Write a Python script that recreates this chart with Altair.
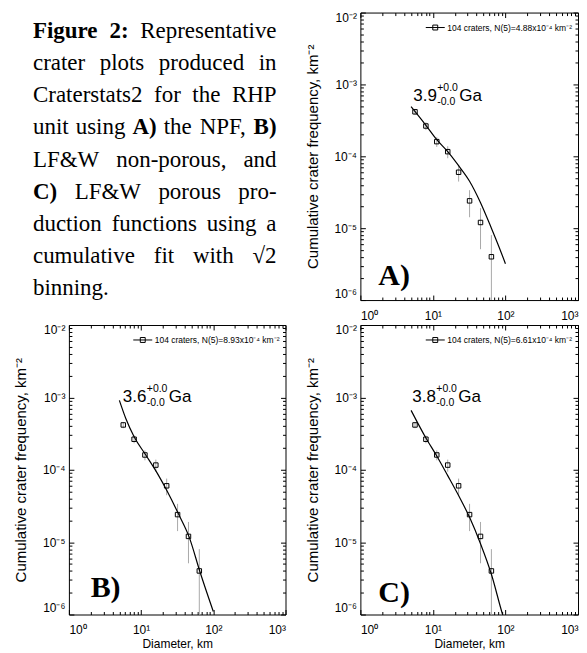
import altair as alt
import pandas as pd

SANS = "Liberation Sans"
SERIF = "Liberation Serif"

# ---------------- data ----------------
crater_diam_km = [5.66, 8.0, 11.3, 16.0, 22.6, 32.0, 45.3, 64.0]
crater_cum_freq = [4.16e-4, 2.64e-4, 1.60e-4, 1.16e-4, 6.0e-5, 2.4e-5, 1.2e-5, 4.0e-6]
crater_err_low = [3.75e-4, 2.32e-4, 1.35e-4, 0.94e-4, 4.45e-5, 1.42e-5, 5.1e-6, 1e-7]
crater_err_high = [4.57e-4, 2.97e-4, 1.85e-4, 1.38e-4, 7.55e-5, 3.38e-5, 1.9e-5, 8.0e-6]

fit_npf_D = [5, 8, 11.3, 16, 22.6, 32, 45, 64, 80, 100]
fit_npf_N = [4.9e-4, 2.7e-4, 1.7e-4, 1.16e-4, 7.4e-5, 4.5e-5, 2.3e-5, 1.0e-5, 5.75e-6, 3.2e-6]
fit_nonporous_D = [5, 6.14, 8, 11.6, 16.8, 23.1, 33.5, 46.1, 65.3, 100]
fit_nonporous_N = [9.1e-4, 5.1e-4, 2.85e-4, 1.6e-4, 8.9e-5, 5.0e-5, 2.37e-5, 1.19e-5, 3.9e-6, 1.1e-6]
fit_porous_D = [5, 8, 11.3, 16, 22.6, 32, 45.3, 64, 90, 100]
fit_porous_N = [6.61e-4, 2.75e-4, 1.55e-4, 8.3e-5, 4.4e-5, 2.2e-5, 9.5e-6, 3.6e-6, 1.05e-6, 7.5e-7]

legend_labels = [
    "104 craters, N(5)=4.88x10\u207b\u2074 km\u207b\u00b2",
    "104 craters, N(5)=8.93x10\u207b\u2074 km\u207b\u00b2",
    "104 craters, N(5)=6.61x10\u207b\u2074 km\u207b\u00b2",
]
panel_age = ["3.9", "3.6", "3.8"]
age_err_plus = ["+0.0", "+0.0", "+0.0"]
age_err_minus = ["-0.0", "-0.0", "-0.0"]
age_anchor_D = [5.36, 5.58, 5.2]
age_anchor_N = [7.0e-4, 1.02e-3, 1.02e-3]
panel_letter = ["A)", "B)", "C)"]
letter_D = [1.77, 2.0, 1.77]
letter_N = [1.62e-6, 1.77e-6, 1.51e-6]

x_tick_values = [1, 10, 100, 1000]
x_tick_labels = ["10\u2070", "10\u00b9", "10\u00b2", "10\u00b3"]
y_tick_values = [1e-6, 1e-5, 1e-4, 1e-3, 1e-2]
y_tick_labels = ["10\u207b\u2076", "10\u207b\u2075", "10\u207b\u2074", "10\u207b\u00b3", "10\u207b\u00b2"]
x_minor_values = [m * d for d in [1, 10, 100] for m in range(2, 10)]
y_minor_values = [m * d for d in [1e-6, 1e-5, 1e-4, 1e-3] for m in range(2, 10)]

x_title = "Diameter, km"
y_title = "Cumulative crater frequency, km\u207b\u00b2"

caption_lines = [
    "**Figure 2:** Representative",
    "crater plots produced in",
    "Craterstats2 for the RHP",
    "unit using **A)** the NPF, **B)**",
    "LF&W non-porous, and",
    "**C)** LF&W porous pro-",
    "duction functions using a",
    "cumulative fit with \u221a2",
    "binning.",
]

# ---------------- helpers ----------------
def label_expr(vals, labs):
    parts = [f"abs(datum.value / {v!r} - 1) < 1e-6 ? '{l}'" for v, l in zip(vals, labs)]
    return " : ".join(parts) + " : ''"

XS = alt.Scale(type="log", domain=[1, 1000], nice=False)
YS = alt.Scale(type="log", domain=[1e-6, 1e-2], nice=False)


def x_label_axis(title):
    kw = dict(orient="bottom", values=x_tick_values, labelExpr=label_expr(x_tick_values, x_tick_labels),
              ticks=False, domain=False, grid=False, labelPadding=10, labelFont=SANS, labelFontSize=12,
              labelColor="black", minExtent=21, maxExtent=21, labelOverlap=False)
    if title:
        kw.update(title=title, titleFont=SANS, titleFontSize=12, titleFontWeight="normal",
                  titlePadding=3, titleColor="black")
    else:
        kw.update(title=None)
    return alt.Axis(**kw)


def y_label_axis():
    return alt.Axis(orient="left", values=y_tick_values, labelExpr=label_expr(y_tick_values, y_tick_labels),
                    ticks=False, domain=False, grid=False, labelPadding=4, labelFlush=True,
                    labelFont=SANS, labelFontSize=12, labelColor="black", labelOverlap=False,
                    minExtent=25, maxExtent=25, title=y_title, titleFont=SANS, titleFontSize=15,
                    titleFontWeight="normal", titlePadding=15, titleColor="black")


def tick_axis(orient, values, size):
    return alt.Axis(orient=orient, values=values, labels=False, ticks=True, tickSize=size, offset=-size,
                    domain=False, grid=False, title=None, tickColor="black", tickWidth=1,
                    minExtent=0, maxExtent=0)


def panel(i, fitD, fitN, width, height, xtitle):
    pts = pd.DataFrame({"D": crater_diam_km, "N": crater_cum_freq, "lo": crater_err_low,
                        "hi": crater_err_high, "series": legend_labels[i]})
    fit = pd.DataFrame({"D": fitD, "N": fitN})
    age = pd.DataFrame({"D": [age_anchor_D[i]], "N": [age_anchor_N[i]], "age": [panel_age[i]],
                        "plus": [age_err_plus[i]], "minus": [age_err_minus[i]], "unit": ["Ga"]})
    let = pd.DataFrame({"D": [letter_D[i]], "N": [letter_N[i]], "t": [panel_letter[i]]})

    err = alt.Chart(pts).mark_rule(color="#a9a9a9", strokeWidth=1, clip=True).encode(
        x=alt.X("D:Q", scale=XS, axis=tick_axis("bottom", x_tick_values, 5)),
        y=alt.Y("lo:Q", scale=YS, axis=tick_axis("left", y_tick_values, 5)),
        y2="hi:Q")
    line = alt.Chart(fit).mark_line(color="black", strokeWidth=1.2, clip=True, interpolate="monotone").encode(
        x=alt.X("D:Q", scale=XS, axis=tick_axis("bottom", x_minor_values, 3)),
        y=alt.Y("N:Q", scale=YS, axis=tick_axis("left", y_minor_values, 3)))
    points = alt.Chart(pts).mark_point(shape="square", filled=False, size=20, strokeWidth=1, opacity=1).encode(
        x=alt.X("D:Q", scale=XS, axis=x_label_axis(xtitle)),
        y=alt.Y("N:Q", scale=YS, axis=y_label_axis()),
        color=alt.Color("series:N", scale=alt.Scale(domain=[legend_labels[i]], range=["black"]),
                        legend=alt.Legend(title=None, orient="top-right", offset=5, padding=0,
                                          symbolType="M-1,0H1M-0.26,-0.26H0.26V0.26H-0.26Z",
                                          symbolSize=361, symbolStrokeWidth=1, symbolStrokeColor="black",
                                          symbolFillColor="transparent", labelFont=SANS, labelFontSize=8.5,
                                          labelColor="black", labelOffset=2, labelLimit=400)))
    age_main = alt.Chart(age).mark_text(align="left", baseline="middle", font=SANS, fontSize=17,
                                         color="black").encode(
        x=alt.X("D:Q", scale=XS, axis=tick_axis("top", x_tick_values, 5)),
        y=alt.Y("N:Q", scale=YS, axis=tick_axis("right", y_tick_values, 5)),
        text="age:N")
    age_plus = alt.Chart(age).mark_text(align="left", baseline="middle", font=SANS, fontSize=10.5, dx=24, dy=-7.5,
                                         color="black").encode(
        x=alt.X("D:Q", scale=XS, axis=None), y=alt.Y("N:Q", scale=YS, axis=None), text="plus:N")
    age_minus = alt.Chart(age).mark_text(align="left", baseline="middle", font=SANS, fontSize=10.5, dx=24, dy=6,
                                          color="black").encode(
        x=alt.X("D:Q", scale=XS, axis=None), y=alt.Y("N:Q", scale=YS, axis=None), text="minus:N")
    age_unit = alt.Chart(age).mark_text(align="left", baseline="middle", font=SANS, fontSize=17, dx=46,
                                         color="black").encode(
        x=alt.X("D:Q", scale=XS, axis=None), y=alt.Y("N:Q", scale=YS, axis=None), text="unit:N")
    letter = alt.Chart(let).mark_text(align="left", baseline="alphabetic", font=SERIF, fontSize=30,
                                       fontWeight="bold", color="black").encode(
        x=alt.X("D:Q", scale=XS, axis=tick_axis("top", x_minor_values, 3)),
        y=alt.Y("N:Q", scale=YS, axis=tick_axis("right", y_minor_values, 3)),
        text="t:N")
    return alt.layer(err, line, points, age_main, age_plus, age_minus, age_unit, letter).resolve_axis(
        x="independent", y="independent").properties(width=width, height=height)


# ---------------- caption (justified text) ----------------
REG = {"a": 444, "b": 500, "c": 444, "d": 500, "e": 444, "f": 333, "g": 500, "h": 500, "i": 278, "j": 278,
       "k": 500, "l": 278, "m": 778, "n": 500, "o": 500, "p": 500, "q": 500, "r": 333, "s": 389, "t": 278,
       "u": 500, "v": 500, "w": 722, "x": 500, "y": 500, "z": 444, "A": 722, "B": 667, "C": 667, "D": 722,
       "E": 611, "F": 556, "G": 722, "H": 722, "L": 611, "N": 722, "P": 556, "R": 667, "W": 944,
       ",": 250, ".": 250, ":": 278, "-": 333, ")": 333, "&": 778, "\u221a": 549, " ": 250}
BOLD = {"F": 611, "i": 278, "g": 500, "u": 556, "r": 444, "e": 444, ":": 333, "A": 722, ")": 333,
        "B": 667, "C": 722, " ": 250}
for dch in "0123456789":
    REG[dch] = 500
    BOLD[dch] = 500

CAP_FS = 23
CAP_W = 244.0


def wwidth(word, bold):
    tab = BOLD if bold else REG
    return sum(tab.get(ch, REG.get(ch, 500)) for ch in word) / 1000.0 * CAP_FS


rows = []
for li, line in enumerate(caption_lines):
    words = []
    bold = False
    for tok in line.split(" "):
        if tok.startswith("**"):
            bold = True
            tok = tok[2:]
        end_bold = tok.endswith("**")
        if end_bold:
            tok = tok[:-2]
        words.append((tok, bold))
        if end_bold:
            bold = False
    widths = [wwidth(w, b) for w, b in words]
    last_line = li == len(caption_lines) - 1
    if last_line or len(words) == 1:
        gap = 0.25 * CAP_FS
    else:
        gap = (CAP_W - sum(widths)) / (len(words) - 1)
    x = 0.0
    for k, ((w, b), wd) in enumerate(zip(words, widths)):
        if k == 0:
            u, al = x / CAP_W, "left"
        elif k == len(words) - 1 and not last_line:
            u, al = (x + wd) / CAP_W, "right"
        else:
            u, al = (x + wd / 2) / CAP_W, "center"
        rows.append({"u": u, "line": li, "word": w, "bold": b, "align": al})
        x += wd + gap

cap_df = pd.DataFrame(rows)
CAP_CELL_W = 217
CAP_CELL_H = 288
CAP_LEFT = -36.0       # caption left edge relative to the column
CAP_TOP = 25.5         # first baseline relative to the row
CAP_LH = 32.2          # line spacing
cap_x = alt.Scale(domain=[-CAP_LEFT / CAP_W, (CAP_CELL_W - CAP_LEFT) / CAP_W], nice=False, zero=False)
cap_y = alt.Scale(domain=[-CAP_TOP / CAP_LH, (CAP_CELL_H - CAP_TOP) / CAP_LH], nice=False, zero=False,
                  reverse=True)

cap_layers = []
for b in [False, True]:
    for al in ["left", "center", "right"]:
        sub = cap_df[(cap_df["bold"] == b) & (cap_df["align"] == al)]
        if len(sub) == 0:
            continue
        cap_layers.append(
            alt.Chart(sub).mark_text(align=al, baseline="alphabetic", font=SERIF, fontSize=CAP_FS,
                                     fontWeight="bold" if b else "normal", color="black").encode(
                x=alt.X("u:Q", scale=cap_x, axis=None),
                y=alt.Y("line:Q", scale=cap_y, axis=None),
                text="word:N"))
caption = alt.layer(*cap_layers).properties(width=CAP_CELL_W, height=CAP_CELL_H,
                                              view={"stroke": "transparent"})

pA = panel(0, fit_npf_D, fit_npf_N, 218, 288, None)
pB = panel(1, fit_nonporous_D, fit_nonporous_N, 217, 290, x_title)
pC = panel(2, fit_porous_D, fit_porous_N, 218, 290, x_title)

chart = alt.concat(caption, pA, pB, pC, columns=2, spacing={"row": 25, "column": 75}, bounds="flush").resolve_scale(
    color="independent").configure_view(stroke="black", strokeWidth=1).properties(
    padding={"left": 5, "top": 2, "right": 0, "bottom": 0}, background="white")

chart.save("out.html", embed_options={"renderer": "svg", "actions": False})
